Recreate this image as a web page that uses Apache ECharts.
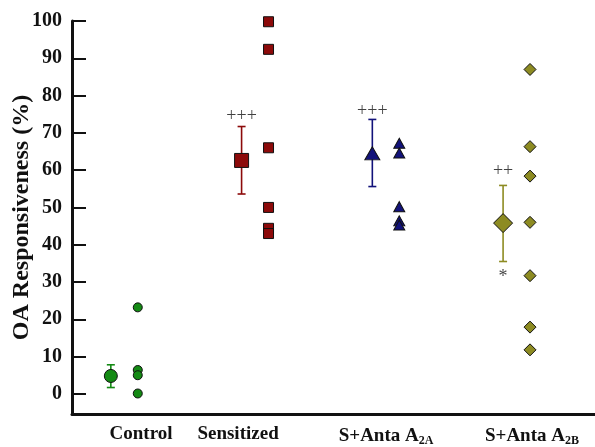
<!DOCTYPE html>
<html>
<head>
<meta charset="utf-8">
<script src="https://cdn.jsdelivr.net/npm/echarts@6/dist/echarts.min.js"></script>
<style>
  html, body { margin: 0; padding: 0; background: #fff; }
  #chart { width: 595px; height: 447px; }
</style>
</head>
<body>
<div id="chart"></div>
<script>
// Group names (rich-text subscripts for the antagonist groups)
const categories = ['Control', 'Sensitized', 'S+Anta A{sub|2A}', 'S+Anta A{sub|2B}'];
// x position of each category caption along the axis
const labelPos = [1.128, 1.870, 3.002, 4.118];

// Individual responses (%)
const controlPts = [23.2, 6.4, 5.0, 0.1];
const sensitizedPts = [99.8, 92.4, 66.0, 50.0, 44.4, 43.0];
const a2aPts = [67.2, 64.6, 50.2, 46.4, 45.3];
const a2bPts = [87.0, 66.3, 58.4, 46.0, 31.7, 17.9, 11.8];

// Group means with error-bar limits
const means = [4.8, 62.6, 64.5, 45.8];
const errLow = [1.7, 53.6, 55.6, 35.5];
const errHigh = [7.8, 71.7, 73.6, 55.9];

// Significance marks: [group index, y value, text]
const marks = [[1, 74.5, '+++'], [2, 75.9, '+++'], [3, 59.6, '++'], [3, 31.4, '*']];

const yTicks = [0, 10, 20, 30, 40, 50, 60, 70, 80, 90, 100];

const colors = ['#148a14', '#8c0a0a', '#12127a', '#8d8b22'];
const shapes = ['circle', 'rect', 'triangle', 'diamond'];
const meanSizes = [13, 14, [15, 13], [19, 19]];
const ptSizes = [9, 10, [11, 10], [12, 12]];
const groupPts = [controlPts, sensitizedPts, a2aPts, a2bPts];

const meanOffset = -0.103;
const ptOffset = 0.103;
const FONT = '"Liberation Serif", "Times New Roman", serif';

const series = [];

// error bars
series.push({
  type: 'custom',
  z: 2,
  data: means.map((m, i) => [i + 1 + meanOffset, errLow[i], errHigh[i], i]),
  renderItem: function (params, api) {
    const x = api.value(0);
    const lo = api.coord([x, api.value(1)]);
    const hi = api.coord([x, api.value(2)]);
    const c = colors[api.value(3)];
    const w = 4;
    const style = { stroke: c, lineWidth: 1.6 };
    return {
      type: 'group',
      children: [
        { type: 'line', shape: { x1: lo[0], y1: lo[1], x2: hi[0], y2: hi[1] }, style: style },
        { type: 'line', shape: { x1: lo[0] - w, y1: lo[1], x2: lo[0] + w, y2: lo[1] }, style: style },
        { type: 'line', shape: { x1: hi[0] - w, y1: hi[1], x2: hi[0] + w, y2: hi[1] }, style: style }
      ]
    };
  }
});

// means and individual points per group
groupPts.forEach((pts, i) => {
  series.push({
    type: 'scatter',
    z: 5,
    symbol: shapes[i],
    symbolSize: meanSizes[i],
    itemStyle: { color: colors[i], borderColor: '#111', borderWidth: 1, opacity: 1 },
    data: [[i + 1 + meanOffset, means[i]]]
  });
  series.push({
    type: 'scatter',
    z: 4,
    symbol: shapes[i],
    symbolSize: ptSizes[i],
    itemStyle: { color: colors[i], borderColor: '#111', borderWidth: 1, opacity: 1 },
    data: pts.map(v => [i + 1 + ptOffset, v])
  });
});

// significance annotations
series.push({
  type: 'scatter',
  z: 6,
  symbolSize: 0,
  silent: true,
  data: marks.map(m => ({ value: [m[0] + 1 + meanOffset, m[1]], name: m[2] })),
  label: {
    show: true,
    position: 'inside',
    formatter: p => p.name,
    color: '#111',
    fontFamily: FONT,
    fontSize: 18
  }
});

const chart = echarts.init(document.getElementById('chart'));
chart.setOption({
  animation: false,
  backgroundColor: '#fff',
  grid: { left: 72, right: 0, top: 21, bottom: 33, outerBoundsMode: 'none', containLabel: false },
  xAxis: {
    type: 'value',
    min: 0.6,
    max: 4.6,
    splitLine: { show: false },
    axisLine: { show: true, onZero: false, lineStyle: { color: '#111', width: 3 } },
    axisTick: { show: false },
    axisLabel: {
      show: true,
      customValues: labelPos,
      margin: 11,
      color: '#111',
      fontFamily: FONT,
      fontWeight: 'bold',
      fontSize: 19,
      formatter: function (v) {
        let best = 0;
        labelPos.forEach((p, i) => { if (Math.abs(p - v) < Math.abs(labelPos[best] - v)) best = i; });
        return categories[best];
      },
      rich: {
        sub: {
          fontFamily: FONT,
          fontWeight: 'bold',
          fontSize: 12,
          color: '#111',
          verticalAlign: 'bottom',
          padding: [10, 0, 0, 0]
        }
      }
    }
  },
  yAxis: {
    type: 'value',
    min: -5.4,
    max: 100,
    name: 'OA Responsiveness (%)',
    nameLocation: 'middle',
    nameGap: 38,
    nameMoveOverlap: false,
    nameTextStyle: {
      color: '#111',
      fontFamily: FONT,
      fontWeight: 'bold',
      fontSize: 24
    },
    splitLine: { show: false },
    axisLine: { show: true, onZero: false, lineStyle: { color: '#111', width: 3 } },
    axisTick: { show: true, inside: true, length: 14, customValues: yTicks, lineStyle: { color: '#111', width: 2 } },
    axisLabel: {
      customValues: yTicks,
      margin: 10,
      color: '#111',
      fontFamily: FONT,
      fontWeight: 'bold',
      fontSize: 20
    }
  },
  series: series
});
</script>
</body>
</html>
